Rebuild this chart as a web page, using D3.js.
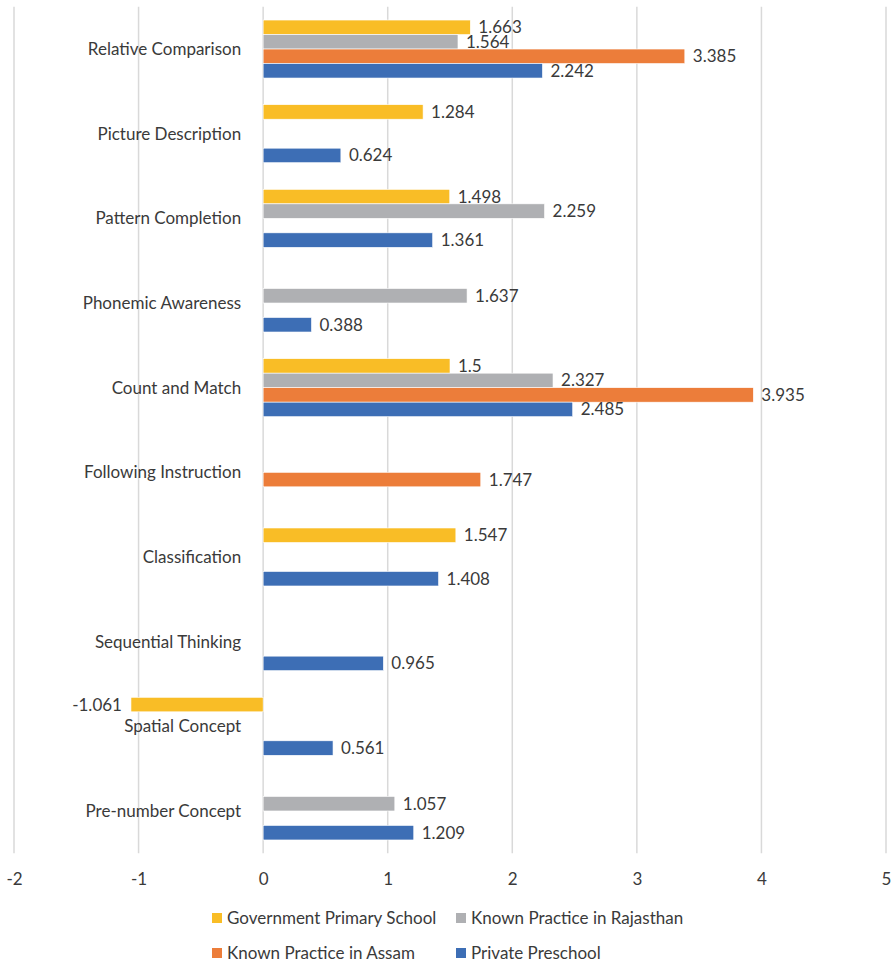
<!DOCTYPE html>
<html>
<head>
<meta charset="utf-8">
<script src="https://cdn.jsdelivr.net/npm/d3@7"></script>
<style>
  html, body { margin: 0; padding: 0; background: #ffffff; }
  svg { display: block; }
  text { font-family: Lato, "Open Sans", sans-serif; fill: #3a3a3a; }
</style>
</head>
<body>
<svg id="chart" width="893" height="966"></svg>
<script>
// Skill domains, listed from top to bottom
const categories = [
  "Relative Comparison",
  "Picture Description",
  "Pattern Completion",
  "Phonemic Awareness",
  "Count and Match",
  "Following Instruction",
  "Classification",
  "Sequential Thinking",
  "Spatial Concept",
  "Pre-number Concept"
];

const seriesNames = [
  "Government Primary School",
  "Known Practice in Rajasthan",
  "Known Practice in Assam",
  "Private Preschool"
];

// Values per series (null = no bar for that domain)
const governmentPrimary = [1.663, 1.284, 1.498, null, 1.5, null, 1.547, null, -1.061, null];
const rajasthanPractice = [1.564, null, 2.259, 1.637, 2.327, null, null, null, null, 1.057];
const assamPractice     = [3.385, null, null, null, 3.935, 1.747, null, null, null, null];
const privatePreschool  = [2.242, 0.624, 1.361, 0.388, 2.485, null, 1.408, 0.965, 0.561, 1.209];

const xTicks = [-2, -1, 0, 1, 2, 3, 4, 5];

const seriesColors = ["#F9BD26", "#AFB0B3", "#EC7D3A", "#3D6EB5"];

const seriesValues = [governmentPrimary, rajasthanPractice, assamPractice, privatePreschool];

const FONT = 17;

const svg = d3.select("#chart");

const plot = { left: 14, right: 886, top: 6.7, bottom: 853.3 };

const x = d3.scaleLinear()
  .domain([-2, 5])
  .range([plot.left, plot.right]);

const y = d3.scaleBand()
  .domain(categories)
  .range([plot.top, plot.bottom])
  .paddingInner(0)
  .paddingOuter(0);

const ySub = d3.scaleBand()
  .domain(seriesNames)
  .range([0, y.bandwidth()])
  .paddingInner(0)
  .paddingOuter(0.92);

// Vertical gridlines
svg.append("g")
  .selectAll("line")
  .data(xTicks)
  .join("line")
  .attr("x1", d => x(d))
  .attr("x2", d => x(d))
  .attr("y1", plot.top)
  .attr("y2", plot.bottom)
  .attr("stroke", "#d9d9d9")
  .attr("stroke-width", 1.5);

// Category labels beside the zero line
svg.append("g")
  .selectAll("text")
  .data(categories)
  .join("text")
  .attr("x", x(0) - 22)
  .attr("y", d => y(d) + y.bandwidth() / 2)
  .attr("dy", "0.35em")
  .attr("text-anchor", "end")
  .attr("font-size", FONT)
  .text(d => d);

// Flatten into bar records
const bars = [];
seriesNames.forEach((s, si) => {
  categories.forEach((c, ci) => {
    const v = seriesValues[si][ci];
    if (v !== null && v !== undefined) bars.push({ series: s, si, category: c, value: v });
  });
});

const barG = svg.append("g");
barG.selectAll("rect")
  .data(bars)
  .join("rect")
  .attr("x", d => x(Math.min(0, d.value)))
  .attr("width", d => Math.abs(x(d.value) - x(0)))
  .attr("y", d => y(d.category) + ySub(d.series))
  .attr("height", ySub.bandwidth())
  .attr("fill", d => seriesColors[d.si])
  .attr("stroke", "#ffffff")
  .attr("stroke-width", 0.6);

// Value labels at the bar ends
barG.selectAll("text")
  .data(bars)
  .join("text")
  .attr("x", d => d.value >= 0 ? x(d.value) + 8 : x(d.value) - 9)
  .attr("y", d => y(d.category) + ySub(d.series) + ySub.bandwidth() / 2)
  .attr("dy", "0.35em")
  .attr("text-anchor", d => d.value >= 0 ? "start" : "end")
  .attr("font-size", FONT)
  .text(d => String(d.value));

// X axis tick labels
const xAxis = d3.axisBottom(x)
  .tickValues(xTicks)
  .tickSize(0)
  .tickPadding(0)
  .tickFormat(d => String(d));

const axisG = svg.append("g")
  .attr("transform", `translate(0, ${plot.bottom + 20})`)
  .call(xAxis);
axisG.select(".domain").remove();
axisG.selectAll("text")
  .attr("font-size", FONT)
  .attr("font-family", "Lato, 'Open Sans', sans-serif")
  .attr("fill", "#3a3a3a");

// Legend in two rows of two
const legendPos = [
  { x: 212, y: 918 },
  { x: 456, y: 918 },
  { x: 212, y: 953 },
  { x: 456, y: 953 }
];
const legend = svg.append("g")
  .selectAll("g")
  .data(seriesNames)
  .join("g")
  .attr("transform", (d, i) => `translate(${legendPos[i].x}, ${legendPos[i].y})`);
legend.append("rect")
  .attr("x", 0)
  .attr("y", -5)
  .attr("width", 10)
  .attr("height", 10)
  .attr("fill", (d, i) => seriesColors[i]);
legend.append("text")
  .attr("x", 15)
  .attr("y", 0)
  .attr("dy", "0.35em")
  .attr("font-size", FONT)
  .text(d => d);
</script>
</body>
</html>
